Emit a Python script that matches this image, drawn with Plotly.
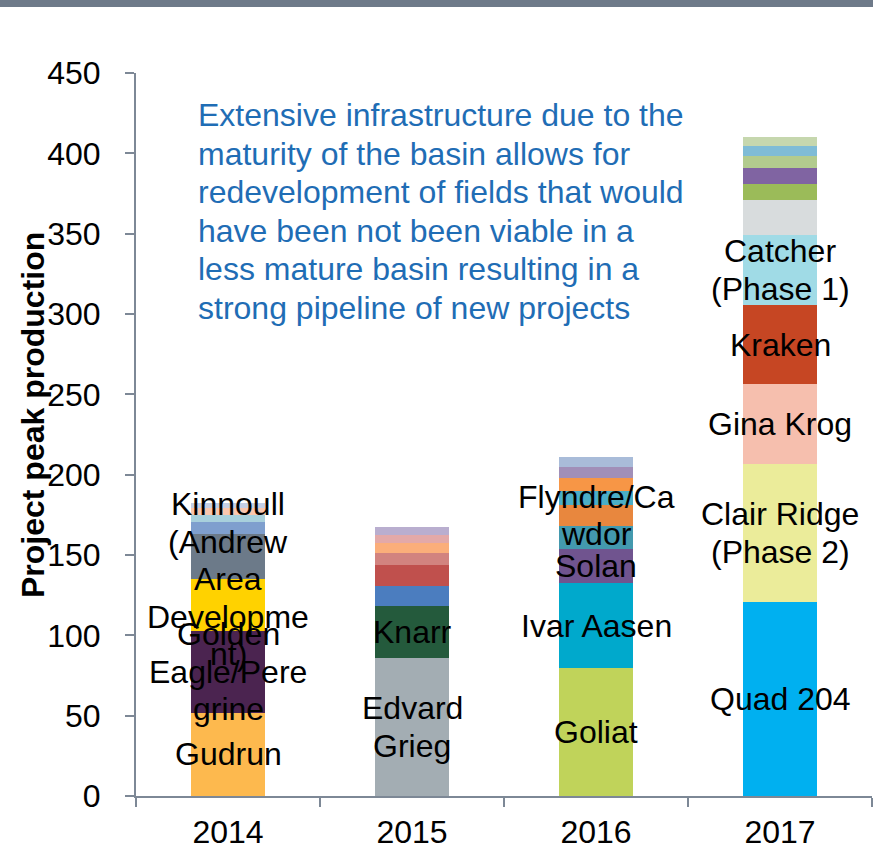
import plotly.graph_objects as go

years = ["2014", "2015", "2016", "2017"]

# segment values (bottom -> top) per year
values_2014 = [51.8, 51.0, 32.0, 28.0, 7.8, 4.2, 4.2, 3.1]
values_2015 = [85.7, 32.5, 12.6, 12.9, 7.7, 5.8, 5.2, 5.2]
values_2016 = [79.5, 52.9, 21.2, 14.5, 13.1, 8.7, 7.9, 7.2, 5.8]
values_2017 = [120.9, 85.7, 49.8, 49.2, 43.6, 21.8, 10.0, 9.8, 7.7, 5.8, 5.8]

labels_2014 = ["Gudrun", "Golden\nEagle/Pere\ngrine", "Kinnoull\n(Andrew\nArea\nDevelopme\nnt)", "", "", "", "", ""]
labels_2015 = ["Edvard\nGrieg", "Knarr", "", "", "", "", "", ""]
labels_2016 = ["Goliat", "Ivar Aasen", "Solan", "", "Flyndre/Ca\nwdor", "", "", "", ""]
labels_2017 = ["Quad 204", "Clair Ridge\n(Phase 2)", "Gina Krog", "Kraken", "Catcher\n(Phase 1)", "", "", "", "", "", ""]

note_lines = [
    "Extensive infrastructure due to the",
    "maturity of the basin allows for",
    "redevelopment of fields that would",
    "have been not been viable in a",
    "less mature basin resulting in a",
    "strong pipeline of new projects",
]
y_title = "Project peak production"
y_ticks = [0, 50, 100, 150, 200, 250, 300, 350, 400, 450]

# styles
colors_2014 = ["#FDB94E", "#4B2450", "#FFD200", "#6C7A89", "#7F9FCE", "#A8D0DC", "#F9C6AE", "#C5CFE5"]
colors_2015 = ["#A3ADB3", "#245A3C", "#4B7DBF", "#C0504D", "#D2837F", "#FBAE7A", "#E3A9A8", "#B9AECF"]
colors_2016 = ["#C0D35A", "#00A9CC", "#70548F", "#4399AE", "#E8873E", "#4BAEC6", "#F79646", "#A18FB8", "#A9BCD9"]
colors_2017 = ["#00B0F0", "#EBEC9A", "#F6BFAE", "#C64623", "#A0DBE6", "#D8DCDD", "#9BBB59", "#8064A2", "#B2CB8E", "#7FBCD6", "#C6D7AE"]

# Kinnoull label sits at the top of its segment in the reference
label_anchor_2014 = ["mid", "mid", "top", "mid", "mid", "mid", "mid", "mid"]

FONT = "Liberation Sans, Arial, Helvetica, sans-serif"
FS = 32
LINE_PX = 37.5
AXIS_COLOR = "#7D8896"

W, H = 873, 849
L, T, B, R = 136, 73, 53, 1
PW, PH = W - L - R, H - T - B

series = [
    (values_2014, colors_2014, labels_2014, label_anchor_2014),
    (values_2015, colors_2015, labels_2015, None),
    (values_2016, colors_2016, labels_2016, None),
    (values_2017, colors_2017, labels_2017, None),
]

fig = go.Figure()
annotations = []
for k, (vals, cols, labs, anchors) in enumerate(series):
    year = years[k]
    base = 0.0
    for i, (v, c, lab) in enumerate(zip(vals, cols, labs)):
        fig.add_trace(go.Bar(x=[year], y=[v], marker=dict(color=c, line=dict(width=0)),
                             showlegend=False, hoverinfo="skip"))
        if lab:
            a = anchors[i] if anchors else "mid"
            yc = base + v if a == "top" else base + v / 2
            lines = lab.split("\n")
            n = len(lines)
            for j, ln in enumerate(lines):
                annotations.append(dict(
                    x=k, y=yc, xref="x", yref="y", text=ln, showarrow=False,
                    yshift=((n - 1) / 2 - j) * LINE_PX, yanchor="middle", xanchor="center",
                    font=dict(family=FONT, size=FS, color="black")))
        base += v

# note text block (positions in reference pixels)
for j, ln in enumerate(note_lines):
    annotations.append(dict(
        x=(196 - L) / PW, y=(796 - 115 - j * 38.5) / PH, xref="paper", yref="paper",
        text=ln, showarrow=False, xanchor="left", yanchor="middle",
        font=dict(family=FONT, size=FS, color="#1F6DB5")))

# y axis title
annotations.append(dict(
    x=(33 - L) / PW, y=(796 - 415) / PH, xref="paper", yref="paper",
    text="<b>" + y_title + "</b>", showarrow=False, textangle=-90,
    xanchor="center", yanchor="middle",
    font=dict(family=FONT, size=FS, color="black")))

fig.update_layout(
    width=W, height=H,
    margin=dict(l=L, r=R, t=T, b=B),
    barmode="stack", bargap=0.6,
    plot_bgcolor="white", paper_bgcolor="white",
    font=dict(family=FONT, size=FS, color="black"),
    annotations=annotations,
    shapes=[dict(type="rect", xref="paper", yref="paper",
                 x0=-0.3, x1=1.05, y0=1 + (73 - 7) / PH, y1=1 + 90 / PH,
                 fillcolor="#6E7A89", line=dict(width=0), layer="above")],
)
fig.update_xaxes(type="category", categoryorder="array", categoryarray=years,
                 range=[-0.5, 3.5], automargin=False,
                 showline=True, linecolor=AXIS_COLOR, linewidth=2,
                 ticks="outside", tickson="boundaries", ticklen=9, tickcolor=AXIS_COLOR, tickwidth=2,
                 showgrid=False, ticklabelstandoff=7, tickangle=0,
                 tickfont=dict(family=FONT, size=FS, color="black"))
fig.update_yaxes(range=[0, 450], tickvals=y_ticks, showline=True, linecolor=AXIS_COLOR, linewidth=2,
                 ticks="outside", ticklen=9, tickcolor=AXIS_COLOR, tickwidth=2, automargin=False,
                 showgrid=False, zeroline=False, ticklabelstandoff=18,
                 tickfont=dict(family=FONT, size=FS, color="black"))

fig.write_html("out.html", config={"displayModeBar": False},
               post_script="document.body.style.margin='0';document.body.style.overflow='hidden';")
